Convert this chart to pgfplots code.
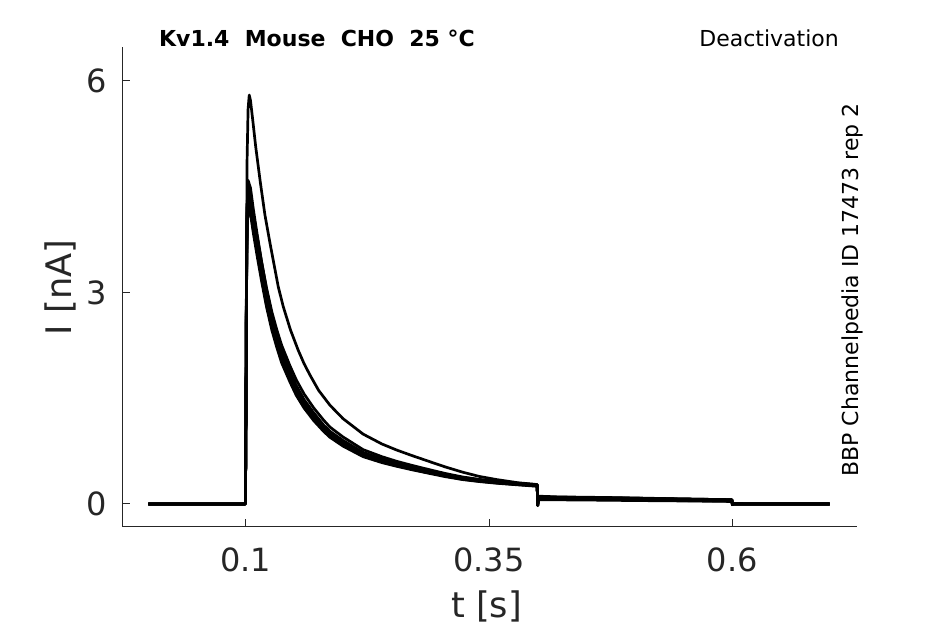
\documentclass[border=0pt]{standalone}
\usepackage{pgfplots}
\pgfplotsset{compat=1.18}
\usepackage{fontspec}
\setmainfont{DejaVu Sans}
\definecolor{axgray}{RGB}{38,38,38}
\begin{document}
\begin{tikzpicture}
\begin{axis}[
  at={(61.15pt,48.65pt)}, anchor=south west,
  scale only axis, width=367.2pt, height=240pt,
  xmin=-0.0267, xmax=0.7277, ymin=-0.323, ymax=6.485,
  axis x line=bottom, axis y line=left,
  axis line style={-, axgray, line width=0.5pt},
  tick style={axgray, line width=0.5pt},
  tick align=inside, major tick length=3.8pt,
  xtick={0.1,0.35,0.6}, xticklabels={0.1,0.35,0.6},
  ytick={0,3,6}, yticklabels={0,3,6},
  ticklabel style={font=\fontsize{16}{19}\selectfont, text=axgray},
  xticklabel style={anchor=center, yshift=-16.65pt},
  yticklabel style={anchor=east, inner sep=0pt, xshift=-7.3pt},
  cycle list={{black, no marks, solid}},
  every axis plot post/.append style={line width=1.35pt, line join=round},
  clip=false,
]
% upper trace
\addplot coordinates {(0,0) (0.0998,0) (0.1003,1.3) (0.1008,3.2) (0.1015,4.9) (0.1025,5.6) (0.1037,5.8) (0.105,5.72) (0.1075,5.42) (0.1103,5.07) (0.115,4.57) (0.1198,4.1) (0.125,3.7) (0.1335,3.08) (0.1386,2.8) (0.146,2.47) (0.154,2.18) (0.16,1.99) (0.166,1.83) (0.175,1.61) (0.1866,1.4) (0.2,1.21) (0.2207,0.99) (0.24,0.85) (0.255,0.765) (0.27,0.69) (0.289,0.6) (0.305,0.525) (0.323,0.45) (0.34,0.39) (0.358,0.345) (0.38,0.3) (0.3995,0.275) (0.4,-0.02) (0.4008,0.1) (0.42,0.095) (0.45,0.09) (0.5,0.08) (0.55,0.07) (0.5995,0.06) (0.6,-0.01) (0.6008,0) (0.65,0) (0.7,0)};
% bundle A
\addplot coordinates {(0,0) (0.0998,0) (0.1003,1.24) (0.1008,3.09) (0.1015,4.22) (0.1025,4.59) (0.105,4.48) (0.108,4.17) (0.112,3.81) (0.1165,3.43) (0.1215,3.04) (0.127,2.68) (0.132,2.42) (0.137,2.18) (0.1455,1.88) (0.152,1.68) (0.16,1.48) (0.17,1.29) (0.18,1.12) (0.1866,1.03) (0.2,0.9) (0.2207,0.73) (0.24,0.64) (0.255,0.58) (0.27,0.53) (0.289,0.47) (0.305,0.42) (0.323,0.376) (0.34,0.345) (0.358,0.32) (0.38,0.294) (0.3995,0.273) (0.4,-0.015) (0.4008,0.11) (0.42,0.1) (0.45,0.095) (0.5,0.085) (0.55,0.07) (0.5995,0.058) (0.6,-0.005) (0.6008,0.005) (0.65,0.003) (0.7,0.002)};
% bundle B
\addplot coordinates {(0,0) (0.0998,0) (0.1003,1.21) (0.1008,3.03) (0.1015,4.14) (0.1025,4.5) (0.105,4.39) (0.108,4.09) (0.112,3.74) (0.1165,3.36) (0.1215,2.98) (0.127,2.63) (0.132,2.37) (0.137,2.14) (0.1455,1.85) (0.152,1.65) (0.16,1.45) (0.17,1.26) (0.18,1.1) (0.1866,1.01) (0.2,0.88) (0.2207,0.72) (0.24,0.626) (0.255,0.571) (0.27,0.52) (0.289,0.462) (0.305,0.414) (0.323,0.369) (0.34,0.338) (0.358,0.313) (0.38,0.288) (0.3995,0.268) (0.4,-0.02) (0.4008,0.1) (0.42,0.092) (0.45,0.087) (0.5,0.077) (0.55,0.066) (0.5995,0.055) (0.6,-0.01) (0.6008,0) (0.65,0) (0.7,0)};
% bundle C
\addplot coordinates {(0,0) (0.0998,0) (0.1003,1.19) (0.1008,2.97) (0.1015,4.06) (0.1025,4.42) (0.105,4.31) (0.108,4.01) (0.112,3.66) (0.1165,3.3) (0.1215,2.92) (0.127,2.57) (0.132,2.33) (0.137,2.1) (0.1455,1.81) (0.152,1.61) (0.16,1.43) (0.17,1.24) (0.18,1.08) (0.1866,0.99) (0.2,0.86) (0.2207,0.7) (0.24,0.614) (0.255,0.559) (0.27,0.51) (0.289,0.452) (0.305,0.406) (0.323,0.361) (0.34,0.332) (0.358,0.307) (0.38,0.282) (0.3995,0.262) (0.4,-0.025) (0.4008,0.08) (0.42,0.076) (0.45,0.072) (0.5,0.063) (0.55,0.054) (0.5995,0.045) (0.6,-0.012) (0.6008,-0.002) (0.65,-0.002) (0.7,0)};
% bundle D
\addplot coordinates {(0,0) (0.0998,0) (0.1003,1.17) (0.1008,2.93) (0.1015,4.0) (0.1025,4.35) (0.105,4.24) (0.108,3.95) (0.112,3.61) (0.1165,3.25) (0.1215,2.88) (0.127,2.54) (0.132,2.29) (0.137,2.07) (0.1455,1.78) (0.152,1.59) (0.16,1.4) (0.17,1.22) (0.18,1.06) (0.1866,0.975) (0.2,0.85) (0.2207,0.69) (0.24,0.605) (0.255,0.551) (0.27,0.502) (0.289,0.446) (0.305,0.4) (0.323,0.356) (0.34,0.327) (0.358,0.302) (0.38,0.278) (0.3995,0.258) (0.4,-0.02) (0.4008,0.07) (0.42,0.066) (0.45,0.062) (0.5,0.055) (0.55,0.047) (0.5995,0.04) (0.6,-0.01) (0.6008,0) (0.65,0) (0.7,0)};
% bundle E
\addplot coordinates {(0,0) (0.0998,0) (0.1003,1.15) (0.1008,2.88) (0.1015,3.94) (0.1025,4.27) (0.105,4.18) (0.108,3.89) (0.112,3.55) (0.1165,3.2) (0.1215,2.83) (0.127,2.5) (0.132,2.26) (0.137,2.04) (0.1455,1.76) (0.152,1.56) (0.16,1.38) (0.17,1.2) (0.18,1.05) (0.1866,0.96) (0.2,0.835) (0.2207,0.68) (0.24,0.595) (0.255,0.542) (0.27,0.494) (0.289,0.439) (0.305,0.394) (0.323,0.35) (0.34,0.322) (0.358,0.298) (0.38,0.274) (0.3995,0.254) (0.4,-0.02) (0.4008,0.06) (0.42,0.058) (0.45,0.055) (0.5,0.048) (0.55,0.042) (0.5995,0.035) (0.6,-0.01) (0.6008,0) (0.65,0) (0.7,0)};
% bundle F
\addplot coordinates {(0,0) (0.0998,0) (0.1003,1.13) (0.1008,2.84) (0.1015,3.87) (0.1025,4.2) (0.105,4.11) (0.108,3.83) (0.112,3.5) (0.1165,3.15) (0.1215,2.79) (0.127,2.46) (0.132,2.22) (0.137,2.0) (0.1455,1.73) (0.152,1.54) (0.16,1.36) (0.17,1.18) (0.18,1.03) (0.1866,0.945) (0.2,0.82) (0.2207,0.67) (0.24,0.586) (0.255,0.534) (0.27,0.487) (0.289,0.432) (0.305,0.387) (0.323,0.345) (0.34,0.317) (0.358,0.293) (0.38,0.27) (0.3995,0.25) (0.4,-0.02) (0.4008,0.1) (0.42,0.095) (0.45,0.09) (0.5,0.08) (0.55,0.07) (0.5995,0.06) (0.6,-0.01) (0.6008,0) (0.65,0) (0.7,0)};
% bundle G
\addplot coordinates {(0,0) (0.0998,0) (0.1003,1.2) (0.1008,3.0) (0.1015,4.1) (0.1025,4.45) (0.105,4.38) (0.108,4.1) (0.112,3.77) (0.1165,3.42) (0.1215,3.06) (0.127,2.72) (0.132,2.47) (0.137,2.25) (0.1455,1.96) (0.152,1.76) (0.16,1.56) (0.17,1.36) (0.18,1.19) (0.1866,1.09) (0.2,0.95) (0.2207,0.77) (0.24,0.67) (0.255,0.605) (0.27,0.55) (0.289,0.485) (0.305,0.432) (0.323,0.382) (0.34,0.347) (0.358,0.318) (0.38,0.29) (0.3995,0.268) (0.4,-0.02) (0.4008,0.085) (0.42,0.08) (0.45,0.075) (0.5,0.067) (0.55,0.058) (0.5995,0.048) (0.6,-0.01) (0.6008,0) (0.65,0) (0.7,0)};
\end{axis}
\node[anchor=base, font=\fontsize{11}{13}\selectfont\bfseries] at (158.5pt,288.65pt) {Kv1.4\ \ Mouse\ \ CHO\ \ 25 °C};
\node[anchor=base east, inner sep=0pt, font=\fontsize{11}{13}\selectfont] at (419.6pt,288.8pt) {Deactivation};
\node[anchor=base, rotate=90, inner sep=0pt, font=\fontsize{11}{13}\selectfont] at (429pt,167pt) {BBP Channelpedia ID 17473 rep 2};
\node[anchor=center, text=axgray, font=\fontsize{17.6}{20}\selectfont] at (243.3pt,9pt) {t [s]};
\node[anchor=center, rotate=90, text=axgray, font=\fontsize{17.6}{20}\selectfont] at (30pt,168.25pt) {I [nA]};
\pgfresetboundingbox
\useasboundingbox (0,0) rectangle (472.5pt,312pt);
\end{tikzpicture}
\end{document}
